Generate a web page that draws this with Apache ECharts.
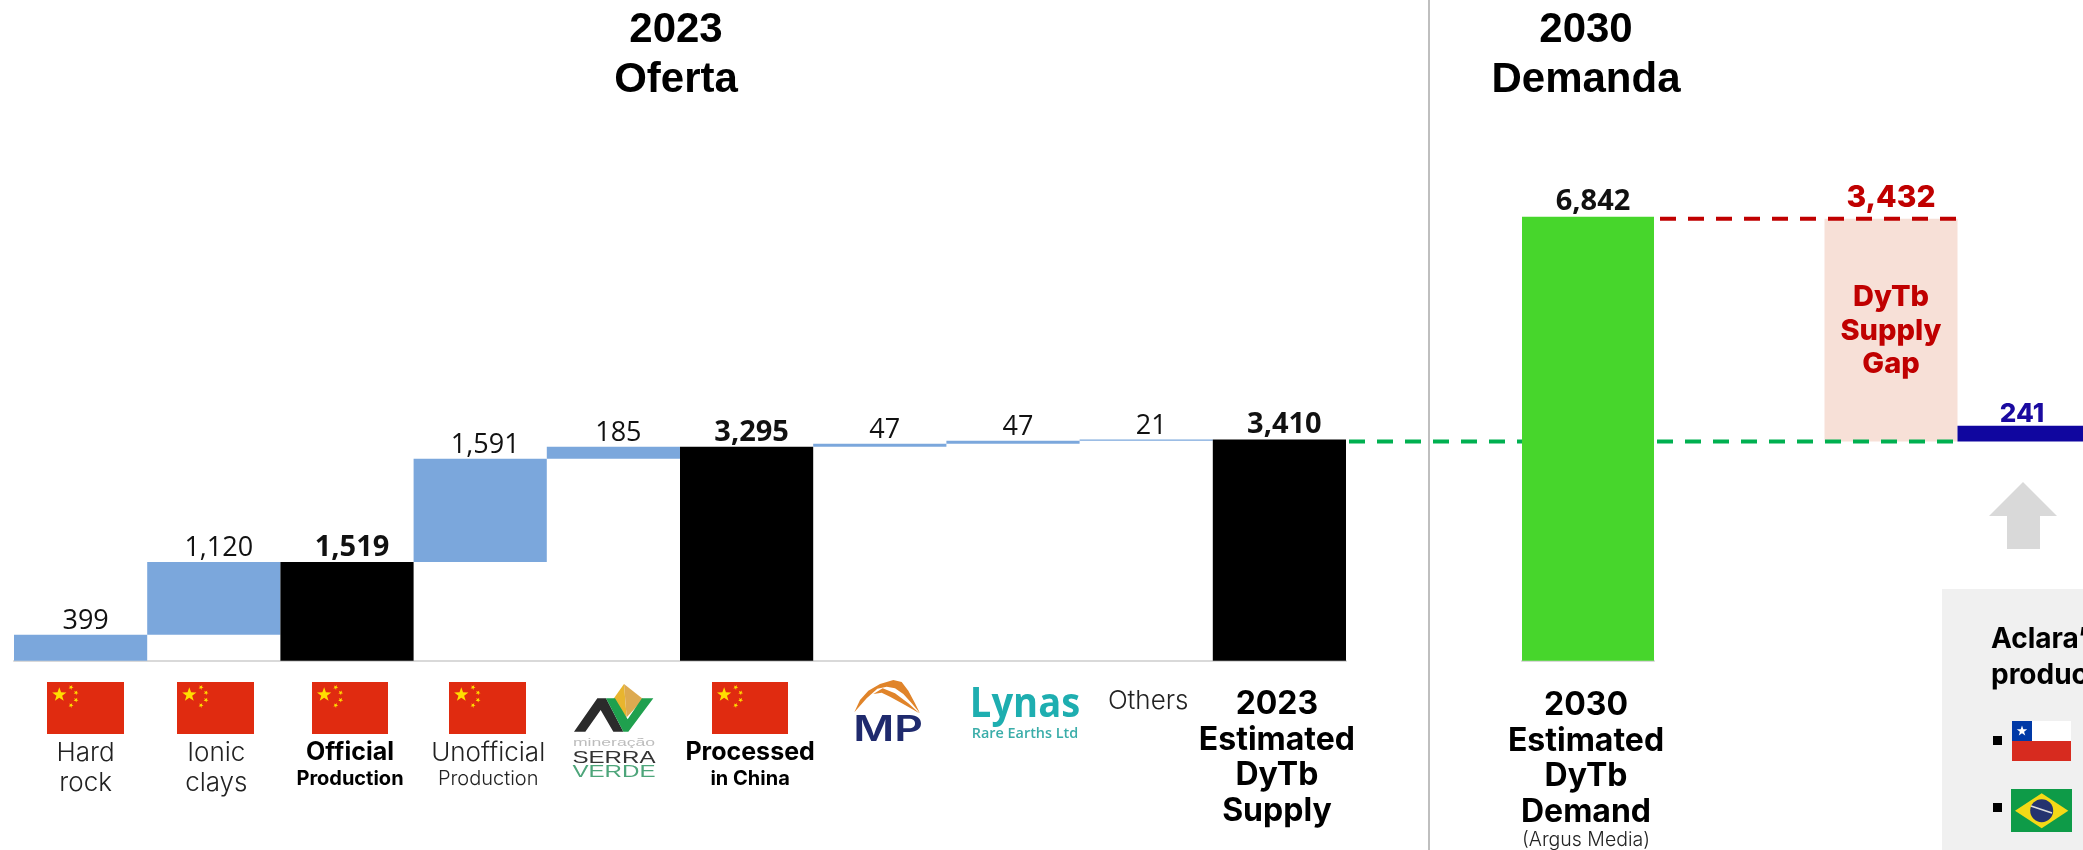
<!DOCTYPE html>
<html><head><meta charset="utf-8">
<style>html,body{margin:0;padding:0;background:#fff;overflow:hidden}#c{width:2083px;height:850px}</style>
<script src="https://cdn.jsdelivr.net/npm/echarts@6/dist/echarts.min.js"></script>
</head><body><div id="c"></div>
<script>
// ---- data ----
const categories = ['Hard rock','Ionic clays','Official Production','Unofficial Production','Serra Verde','Processed in China','MP','Lynas','Others','2023 Estimated DyTb Supply'];
const supplyValues = [399,1120,1519,1591,185,3295,47,47,21,3410];
const supplyIsTotal = [false,false,true,false,false,true,false,false,false,true];
const tickLabels = ['{l|Hard}\n{l|rock}','{l|Ionic}\n{l|clays}','{b|Official}\n{sb|Production}','{l|Unofficial}\n{s|Production}','','{b|Processed}\n{sb|in China}','','','{l|Others}','{big|2023}\n{big|Estimated}\n{big|DyTb}\n{big|Supply}'];
const demandCategory = ['{big|2030}\n{big|Estimated}\n{big|DyTb}\n{big|Demand}\n{arg|(Argus Media)}'];
const demandValue = [6842];
const gapCategories = ['DyTb Supply Gap','Aclara'];
const gapBase = [3410,3410];
const gapValues = [3432,241];
// ---- layout / style ----
const YMAX=7000, H=454.3, TOP=206.4;
const F_NUM='"Open Sans"', F_UI='Inter';
const BLUE='#7BA7DC', BLACK='#000', GREEN='#47D62C', PEACH='#F7E0D7', NAVY='#10069F', RED='#C00000', DGREEN='#00B050';
const tickPad=[[77,0,0,10],[77,0,0,5],[77,0,0,6],[77,0,0,16],[0,0,0,0],[77,0,0,7],[0,0,0,0],[0,0,0,0],[25,0,0,4],[26,5,0,0]];
const rich={
 l:{fontFamily:F_UI,fontWeight:300,fontSize:26,lineHeight:30,color:'#222'},
 b:{fontFamily:F_UI,fontWeight:700,fontSize:25,lineHeight:30,color:'#000'},
 s:{fontFamily:F_UI,fontWeight:300,fontSize:20,lineHeight:22,color:'#222'},
 sb:{fontFamily:F_UI,fontWeight:700,fontSize:20,lineHeight:22,color:'#000'},
 big:{fontFamily:F_UI,fontWeight:700,fontSize:32,lineHeight:35.5,color:'#000'},
 arg:{fontFamily:F_UI,fontWeight:300,fontSize:19.5,lineHeight:20,color:'#222'}
};
let running=0;
const bases=supplyValues.map((v,i)=>{ if(supplyIsTotal[i]) return 0; const b=running; running+=v; return b; });
const fmt=v=>v.toLocaleString('en-US');

const chart=echarts.init(document.getElementById('c'),null,{renderer:'canvas'});
const baseAxis={type:'category',axisTick:{show:false},axisLabel:{interval:0,margin:0,rich:rich,hideOverlap:false,verticalAlign:'top'}};
const yAx=i=>({type:'value',gridIndex:i,min:0,max:YMAX,show:false,splitLine:{show:false}});
chart.setOption({
 animation:false,backgroundColor:'#fff',
 title:[
  {text:'2023\nOferta',left:671,top:0,textAlign:'center',textStyle:{fontFamily:'"Liberation Sans"',fontWeight:700,fontSize:42,lineHeight:50,color:'#000'}},
  {text:'2030\nDemanda',left:1581,top:0,textAlign:'center',textStyle:{fontFamily:'"Liberation Sans"',fontWeight:700,fontSize:42,lineHeight:50,color:'#000'}}
 ],
 grid:[
  {left:14,width:1332,top:TOP,height:H},
  {left:1522,width:132,top:TOP,height:H},
  {left:1891,width:133,top:TOP+2,height:H}
 ],
 xAxis:[
  Object.assign({},baseAxis,{gridIndex:0,data:categories.map((c,i)=>({value:tickLabels[i],textStyle:{padding:tickPad[i]}})),axisLine:{lineStyle:{color:'#D9D9D9',width:2}}}),
  Object.assign({},baseAxis,{gridIndex:1,data:demandCategory.map(v=>({value:v,textStyle:{padding:[27,4,0,0]}})),axisLine:{lineStyle:{color:'#D9D9D9',width:2}}}),
  Object.assign({},baseAxis,{gridIndex:2,data:gapCategories,boundaryGap:false,axisLine:{show:false},axisLabel:{show:false}})
 ],
 yAxis:[yAx(0),yAx(1),yAx(2)],
 series:[
  {type:'bar',name:'base',stack:'s',xAxisIndex:0,yAxisIndex:0,barWidth:'100%',silent:true,itemStyle:{color:'transparent'},data:bases},
  {type:'bar',name:'Oferta 2023',stack:'s',xAxisIndex:0,yAxisIndex:0,barWidth:'100%',
   data:supplyValues.map((v,i)=>({value:v,itemStyle:{color:supplyIsTotal[i]?BLACK:BLUE},
     label:{fontWeight:supplyIsTotal[i]?700:400,fontSize:supplyIsTotal[i]?29:27}})),
   label:{show:true,position:'top',distance:0,offset:[5,0],fontFamily:F_NUM,color:'#111',formatter:p=>fmt(p.value)}},
  {type:'bar',name:'Demanda 2030',xAxisIndex:1,yAxisIndex:1,barWidth:'100%',itemStyle:{color:GREEN},data:demandValue,
   label:{show:true,position:'top',distance:0,offset:[5,0],fontFamily:F_NUM,fontWeight:700,fontSize:29,color:'#111',formatter:p=>fmt(p.value)}},
  {type:'bar',name:'gapBase',stack:'g',xAxisIndex:2,yAxisIndex:2,barWidth:133,clip:false,silent:true,itemStyle:{color:'transparent'},data:gapBase},
  {type:'bar',name:'Gap',stack:'g',xAxisIndex:2,yAxisIndex:2,barWidth:133,clip:false,
   data:[{value:gapValues[0],itemStyle:{color:PEACH},label:{color:RED,fontSize:30,distance:6}},
         {value:gapValues[1],itemStyle:{color:NAVY},label:{color:'#1A0AA0',fontSize:26,distance:-1,offset:[-2,0]}}],
   label:{show:true,position:'top',fontFamily:F_UI,fontWeight:800,formatter:p=>fmt(p.value)}}
 ]
});

// ---- decoration ----
const Y=v=>chart.convertToPixel({yAxisIndex:2},v);
const T=(text,x,y,font,fill,o)=>Object.assign({type:'text',x,y,z:6,style:{text,font,fill,align:'center',verticalAlign:'middle'}},o||{});
const TL=(text,x,y,font,fill)=>({type:'text',x,y,z:6,style:{text,font,fill,align:'left',verticalAlign:'middle'}});
const R=(x,y,w,h,fill,z)=>({type:'rect',z:z||4,shape:{x,y,width:w,height:h},style:{fill}});
const P=(pts,fill,z)=>({type:'polygon',z:z||5,shape:{points:pts},style:{fill}});
const star=(cx,cy,r,fill,rot)=>{const p=[];for(let i=0;i<10;i++){const a=-Math.PI/2+(rot||0)+i*Math.PI/5,q=i%2?r*0.4:r;p.push([cx+q*Math.cos(a),cy+q*Math.sin(a)]);}return P(p,fill,6);};
const dash=(x1,x2,y,c)=>({type:'line',z:5,shape:{x1,y1:y,x2,y2:y},style:{stroke:c,lineWidth:4,lineDash:[16,12]}});
const g=[];
g.push({type:'line',z:1,shape:{x1:1429,y1:0,x2:1429,y2:850},style:{stroke:'#BFBFBF',lineWidth:2}});
g.push(dash(1349,1522,Y(3410),DGREEN),dash(1657,1958,Y(3410),DGREEN),dash(1660,1958,Y(6842),RED));
g.push(T('DyTb',1891,297,'800 29px Inter',RED),T('Supply',1891,331,'800 29px Inter',RED),T('Gap',1891,364,'800 29px Inter',RED));
// China flags
const flagCN=(x,w)=>{const y=682,h=52,k=w/77;g.push(R(x,y,w,h,'#E02B10'));g.push(star(x+12.3*k,y+12.7,7.5,'#FFDE00'));
 [[24,5.3],[29,10.7],[29,18],[24,23.3]].forEach(s=>g.push(star(x+s[0]*k,y+s[1],2.6,'#FFDE00',0.5)));};
[[47,77],[177,77],[312,76],[449,77],[712,76]].forEach(f=>flagCN(f[0],f[1]));
// Serra Verde
const sv=(x,y)=>[560+x/3,670+y/3];
g.push(P([[192,42],[158,90],[200,142]].map(a=>sv(a[0],a[1])),'#E8B52E'));
g.push(P([[192,42],[250,88],[200,142]].map(a=>sv(a[0],a[1])),'#DDAA50'));
g.push(P([[42,185],[112,85],[138,85],[190,185],[160,185],[122,120],[76,185]].map(a=>sv(a[0],a[1])),'#2B2B2B'));
g.push(P([[138,85],[165,85],[203,148],[246,85],[280,85],[205,185],[190,185]].map(a=>sv(a[0],a[1])),'#1FA04E'));
g.push(T('mineração',614,743,'300 11px "Liberation Sans"','#BDBDBD',{scaleX:1.6}));
g.push(T('SERRA',614,758,'400 17px "Liberation Sans"','#333',{scaleX:1.42}));
g.push(T('VERDE',614,772,'400 17px "Liberation Sans"','#4DA57A',{scaleX:1.42}));
// MP
const mp=(x,y)=>[840+x/3,670+y/3];
g.push(P([[43,127],[60,90],[85,62],[120,42],[160,30],[185,36],[205,62],[225,100],[240,130],[215,100],[190,72],[165,55],[140,50],[112,56],[80,85]].map(a=>mp(a[0],a[1])),'#E0842A'));
g.push(P([[100,72],[128,55],[165,70],[205,100],[238,130],[195,105],[150,80],[125,68]].map(a=>mp(a[0],a[1])),'#E0842A'));
g.push(T('MP',888,730,'600 35px Inter','#1F2A6D',{scaleX:1.27}));
// Lynas
g.push(T('Lynas',1025,705,'700 41px "Open Sans"','#1EAEB0',{scaleX:0.93}));
g.push(T('Rare Earths Ltd',1025,734,'600 15px "Open Sans"','#3AADA9',{scaleX:0.96}));
// arrow, panel
g.push(P([[2023,482],[2057,516],[2040,516],[2040,549],[2007,549],[2007,516],[1989,516]],'#D9D9D9',2));
g.push(R(1942,589,141,261,'#F0F0F0',2));
g.push(TL('Aclara’s',1991,640,'700 28px Inter','#000'));
g.push(TL('production',1991,676,'700 28px Inter','#000'));
g.push(R(1993,736,9,9,'#000',5),R(1993,803,9,9,'#000',5));
// Chile
g.push(R(2012,721,59,20,'#FFFFFF',4),R(2012,741,59,20,'#D72B1F',4),R(2012,721,20,20,'#0039A6',5),star(2022,731,5.5,'#fff'));
// Brazil
g.push(R(2011,789,61,43,'#0E9B48',4));
g.push(P([[2015,810.7],[2041.7,793.3],[2068.3,810.7],[2041.7,828.3]],'#F4D916',5));
g.push({type:'circle',z:6,shape:{cx:2041.7,cy:810.7,r:11.5},style:{fill:'#24336F'}});
g.push({type:'line',z:7,shape:{x1:2031,y1:806,x2:2052,y2:813},style:{stroke:'#ddd',lineWidth:1.5}});
chart.setOption({graphic:{elements:g}});
</script></body></html>
